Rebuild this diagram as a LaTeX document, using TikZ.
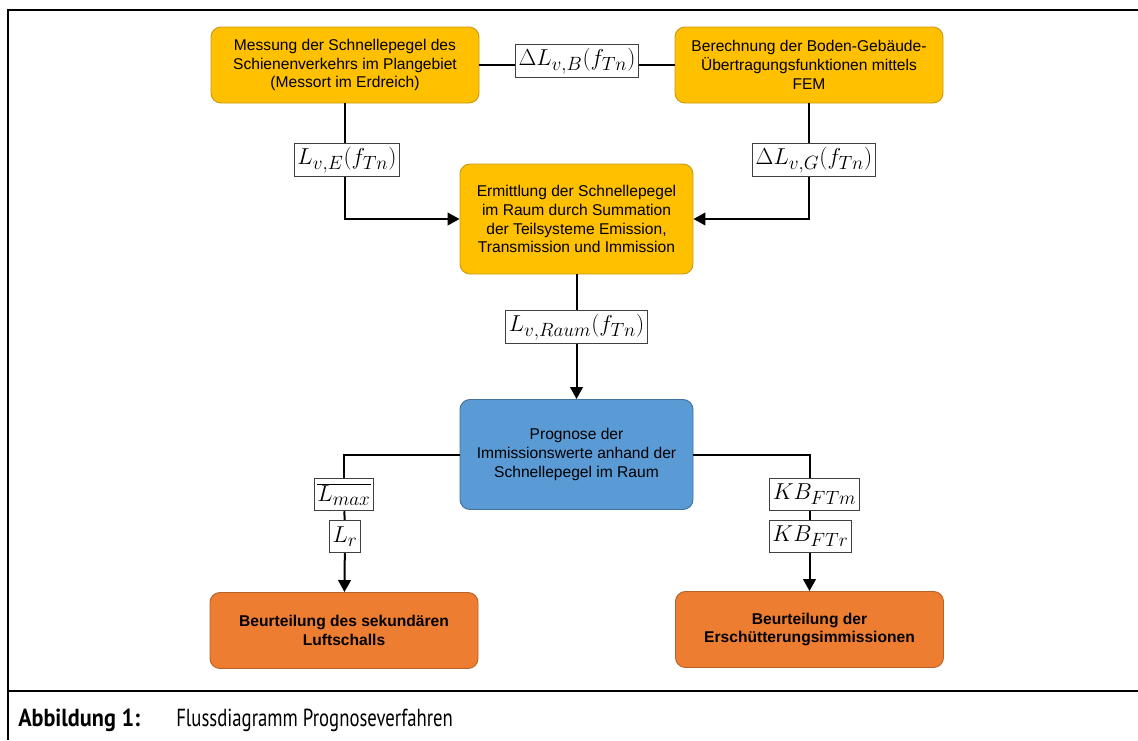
\documentclass[tikz,border=0pt]{standalone}
\usepackage{fontspec}
\setmainfont{Liberation Sans}
\newfontfamily\capfont[FakeStretch=0.76]{PT Sans}
\newfontfamily\capboldfont[FakeStretch=0.9]{PT Sans Bold}
\usetikzlibrary{arrows.meta}
\definecolor{gold}{HTML}{FFC000}
\definecolor{goldedge}{HTML}{C89A10}
\definecolor{skyblue}{HTML}{5B9BD5}
\definecolor{skyedge}{HTML}{41719C}
\definecolor{rust}{HTML}{ED7D31}
\definecolor{rustedge}{HTML}{B8622A}

\begin{document}
\begin{tikzpicture}[x=0.75pt,y=-0.75pt,
    procbox/.style={rounded corners=7.5pt, line width=0.7pt, align=center, inner sep=2pt,
        minimum width=201pt, minimum height=57pt, font=\fontsize{11.7}{14.2}\selectfont},
    widebox/.style={procbox, minimum width=174.75pt, minimum height=82.5pt},
    varbox/.style={draw=black!75, fill=white, line width=0.6pt, inner sep=2.5pt,
        minimum height=24.5pt, font=\fontsize{19}{22}\selectfont},
    link/.style={line width=1.5pt},
    arr/.style={link, -{Triangle[length=9pt,width=9.5pt]}}]
    \useasboundingbox (0,0) rectangle (1138,740);

    \draw[line width=1.5pt] (8,740) -- (8,10) -- (1138,10);
    \draw[line width=1.5pt] (8,691) -- (1138,691);
    \node[anchor=base west, inner sep=0pt, font=\capboldfont\fontsize{18.5}{22}\selectfont] (capnum) at (18,726) {Abbildung 1:};
    \node[anchor=base west, inner sep=0pt, font=\capfont\fontsize{18.5}{22}\selectfont] (captxt) at (176,726) {Flussdiagramm Prognoseverfahren};

    \node[procbox, draw=goldedge, fill=gold] (mess) at (345,65) {Messung der Schnellepegel des\\Schienenverkehrs im Plangebiet\\(Messort im Erdreich)};
    \node[procbox, draw=goldedge, fill=gold] (fem) at (809,65) {Berechnung der Boden-Geb\"aude-\\\"Ubertragungsfunktionen mittels\\FEM};
    \node[varbox] (dLB) at (577,61) {$\Delta L_{v,B}(f_{Tn})$};
    \node[varbox] (LvE) at (347,160) {$L_{v,E}(f_{Tn})$};
    \node[varbox] (dLG) at (814,160) {$\Delta L_{v,G}(f_{Tn})$};
    \node[widebox, draw=goldedge, fill=gold] (summ) at (576.5,219) {Ermittlung der Schnellepegel\\im Raum durch Summation\\der Teilsysteme Emission,\\Transmission und Immission};
    \node[varbox] (LRaum) at (576.5,327) {$L_{v,Raum}(f_{Tn})$};
    \node[widebox, draw=skyedge, fill=skyblue] (prog) at (576.5,454.5) {Prognose der\\Immissionswerte anhand der\\Schnellepegel im Raum};
    \node[varbox] (Lmax) at (344,494.5) {$\overline{L_{max}}$};
    \node[varbox] (Lr) at (345,536.5) {$L_r$};
    \node[varbox] (KBm) at (814.5,494.5) {$KB_{FTm}$};
    \node[varbox] (KBr) at (810.5,536.5) {$KB_{FTr}$};
    \node[procbox, draw=rustedge, fill=rust, font=\fontsize{11.7}{14.2}\selectfont\bfseries] (luft) at (344,630.5) {Beurteilung des sekund\"aren\\Luftschalls};
    \node[procbox, draw=rustedge, fill=rust, font=\fontsize{11.7}{14.2}\selectfont\bfseries] (ersch) at (809.5,629.5) {Beurteilung der\\Ersch\"utterungsimmissionen};

    \draw[link] (mess.east) -- (mess.east -| dLB.west);
    \draw[link] (dLB.east |- fem.west) -- (fem.west);
    \draw[link] (mess.south) -- (mess.south |- LvE.north);
    \draw[arr] (mess.south |- LvE.south) |- (summ.west);
    \draw[link] (fem.south) -- (fem.south |- dLG.north);
    \draw[arr] (fem.south |- dLG.south) |- (summ.east);
    \draw[link] (summ) -- (LRaum);
    \draw[arr] (LRaum) -- (prog);
    \draw[link] (prog.west) -| (Lmax.north);
    \draw[link] (Lmax) -- (Lr);
    \draw[arr] (Lr) -- (luft);
    \draw[link] (prog.east) -| (ersch.north |- KBm.north);
    \draw[link] (ersch.north |- KBm.south) -- (ersch.north |- KBr.north);
    \draw[arr] (ersch.north |- KBr.south) -- (ersch.north);
\end{tikzpicture}
\end{document}
